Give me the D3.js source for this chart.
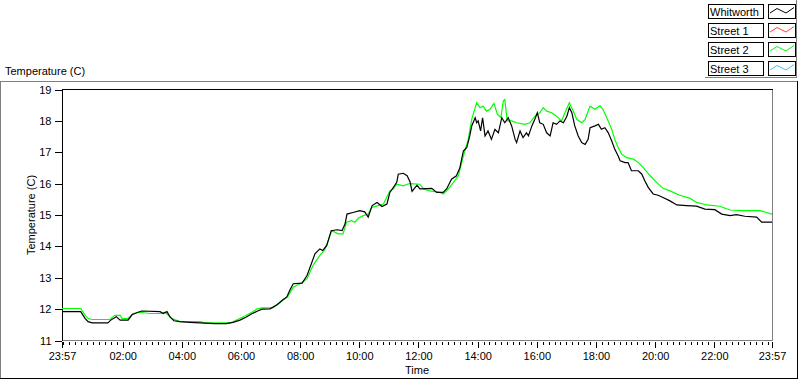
<!DOCTYPE html>
<html>
<head>
<meta charset="utf-8">
<script src="https://cdn.jsdelivr.net/npm/d3@7"></script>
<style>
  body { margin: 0; background: #fff; }
  svg text { font-family: "Liberation Sans", Arial, sans-serif; font-size: 11px; fill: #000; }
</style>
</head>
<body>
<div id="chart"></div>
<script>
// Series (clock time, temperature in C)
const whitworthTimes = ["23:57","00:35","00:44","00:50","00:58","01:30","01:36","01:47","01:55","02:11","02:19","02:31","02:39","03:16","03:22","03:30","03:36","03:44","03:56","04:17","04:37","05:07","05:30","05:44","05:58","06:10","06:22","06:35","06:43","06:59","07:13","07:25","07:33","07:39","07:46","08:04","08:14","08:24","08:30","08:40","08:46","08:54","09:03","09:15","09:25","09:31","09:35","09:47","10:01","10:11","10:18","10:26","10:36","10:46","10:56","11:02","11:16","11:19","11:29","11:37","11:43","11:47","11:57","12:03","12:27","12:37","12:50","12:57","13:07","13:17","13:24","13:31","13:38","13:44","13:48","13:55","13:58","14:01","14:06","14:10","14:15","14:21","14:28","14:35","14:42","14:49","14:55","15:02","15:09","15:16","15:19","15:26","15:32","15:39","15:43","15:50","15:56","16:01","16:06","16:13","16:20","16:27","16:33","16:40","16:47","16:54","17:01","17:06","17:11","17:17","17:24","17:31","17:38","17:44","17:48","17:58","18:05","18:11","18:18","18:25","18:32","18:38","18:45","18:49","18:59","19:05","19:12","19:26","19:33","19:39","19:46","19:56","20:06","20:16","20:30","20:44","21:04","21:24","21:41","22:01","22:15","22:32","22:45","23:02","23:26","23:36","23:57"];
const whitworthValues = [11.92,11.92,11.7,11.6,11.56,11.56,11.65,11.76,11.65,11.65,11.82,11.9,11.94,11.92,11.86,11.92,11.75,11.63,11.6,11.58,11.56,11.54,11.54,11.58,11.65,11.74,11.85,11.95,12.0,12.01,12.14,12.3,12.39,12.6,12.81,12.83,13.07,13.5,13.76,13.92,13.87,14.03,14.5,14.53,14.5,14.71,15.03,15.08,15.14,15.1,14.93,15.3,15.4,15.27,15.35,15.72,16.04,16.3,16.33,16.25,16.05,15.75,15.95,15.83,15.85,15.72,15.72,15.83,16.14,16.25,16.51,17.04,17.15,17.52,17.84,18.1,17.94,18.0,17.68,18.1,17.52,17.68,17.41,17.73,17.62,18.1,17.94,18.1,17.84,17.41,17.31,17.68,17.47,17.62,17.52,17.84,18.05,18.26,17.94,17.89,17.62,17.52,17.94,17.89,18.0,17.94,18.15,18.42,18.26,17.84,17.52,17.31,17.25,17.41,17.78,17.84,17.89,17.73,17.78,17.62,17.36,17.1,16.88,16.73,16.67,16.67,16.41,16.41,16.3,16.09,15.88,15.67,15.63,15.56,15.45,15.32,15.3,15.28,15.19,15.17,15.03,14.98,15.01,14.96,14.93,14.77,14.77];

const street2Times = ["23:57","00:35","00:44","00:50","00:58","01:34","01:44","01:55","01:59","02:11","02:21","02:35","02:55","03:16","03:26","03:40","03:56","04:37","04:47","05:38","05:48","06:08","06:22","06:32","06:43","07:05","07:19","07:25","07:35","07:46","08:04","08:14","08:26","08:40","08:50","08:57","09:04","09:17","09:27","09:34","09:44","09:51","09:58","10:08","10:18","10:25","10:36","10:49","11:02","11:09","11:16","11:29","11:37","11:43","12:03","12:10","12:23","12:44","12:50","12:57","13:11","13:21","13:31","13:41","13:48","13:55","13:58","14:05","14:11","14:18","14:25","14:33","14:40","14:47","14:52","14:55","15:00","15:09","15:19","15:36","15:46","15:56","16:06","16:13","16:20","16:30","16:40","16:50","16:57","17:06","17:14","17:21","17:31","17:38","17:48","17:58","18:08","18:14","18:25","18:32","18:38","18:45","18:52","19:02","19:16","19:26","19:36","19:50","20:03","20:16","20:30","20:50","21:11","21:24","21:45","22:11","22:32","22:59","23:33","23:46","23:57"];
const street2Values = [12.02,12.02,11.8,11.7,11.67,11.67,11.8,11.8,11.7,11.7,11.86,11.9,11.86,11.86,11.9,11.7,11.6,11.6,11.56,11.56,11.63,11.78,11.9,12.0,12.04,12.05,12.2,12.28,12.4,12.7,12.85,12.97,13.39,13.71,13.9,14.19,14.5,14.4,14.4,14.77,14.82,14.77,14.9,14.98,15.03,15.24,15.29,15.35,15.77,15.83,15.98,15.93,15.98,16.0,15.98,15.83,15.77,15.72,15.67,15.77,16.04,16.25,16.88,17.41,18.05,18.42,18.58,18.42,18.47,18.31,18.37,18.56,18.21,18.1,18.63,18.68,18.0,18.0,17.94,17.89,17.94,18.15,18.26,18.42,18.31,18.26,18.15,18.0,18.26,18.58,18.31,18.05,17.94,18.05,18.47,18.37,18.49,18.37,17.99,17.73,17.41,17.15,16.94,16.83,16.78,16.67,16.51,16.25,16.04,15.85,15.77,15.63,15.53,15.4,15.32,15.28,15.16,15.14,15.14,15.08,15.03];

const legendNames = ["Whitworth", "Street 1", "Street 2", "Street 3"];
const legendColors = ["#000000", "#ff4040", "#00ff00", "#40c0ff"];

const yTicks = [11, 12, 13, 14, 15, 16, 17, 18, 19];
const xTickLabels = ["23:57", "02:00", "04:00", "06:00", "08:00", "10:00", "12:00", "14:00", "16:00", "18:00", "20:00", "22:00", "23:57"];

const width = 800;
const height = 380;
const plot = {left: 62, right: 772, top: 89.5, bottom: 340.5};

// first stamp is the evening before, everything else falls on the next day
function parseClock(s, i) {
    const [h, m] = s.split(":").map(Number);
    return new Date(2000, 0, i === 0 ? 1 : 2, h, m);
}

const start = new Date(2000, 0, 1, 23, 57);
const end = new Date(2000, 0, 2, 23, 57);

const x = d3.scaleTime().domain([start, end]).range([plot.left, plot.right]);
const y = d3.scaleLinear().domain([11, 19]).range([plot.bottom, plot.top]);

const svg = d3.select("#chart").append("svg")
    .attr("width", width)
    .attr("height", height);

// panel frame (sunken look)
const frame = svg.append("g").attr("shape-rendering", "crispEdges");
frame.append("line").attr("x1", 0).attr("x2", 797).attr("y1", 81.5).attr("y2", 81.5).attr("stroke", "#808080");
frame.append("line").attr("x1", 0.5).attr("x2", 0.5).attr("y1", 81).attr("y2", 379).attr("stroke", "#808080");
frame.append("line").attr("x1", 797.5).attr("x2", 797.5).attr("y1", 81).attr("y2", 379).attr("stroke", "#000");
frame.append("line").attr("x1", 0).attr("x2", 798).attr("y1", 378.5).attr("y2", 378.5).attr("stroke", "#000");

svg.append("text")
    .attr("x", 5)
    .attr("y", 75)
    .text("Temperature (C)");

// plot area borders
const border = svg.append("g").attr("shape-rendering", "crispEdges");
border.append("line").attr("x1", plot.left).attr("x2", plot.right + 0.5).attr("y1", plot.top).attr("y2", plot.top).attr("stroke", "#000");
border.append("line").attr("x1", plot.right + 0.5).attr("x2", plot.right + 0.5).attr("y1", plot.top).attr("y2", plot.bottom).attr("stroke", "#808080");
border.append("line").attr("x1", plot.left).attr("x2", plot.right + 0.5).attr("y1", plot.bottom).attr("y2", plot.bottom).attr("stroke", "#808080");

// y axis
const yAxis = d3.axisLeft(y).tickValues(yTicks).tickSize(8).tickPadding(3).tickFormat(d3.format("d"));
const yg = svg.append("g")
    .attr("transform", `translate(${plot.left + 0.5},0)`)
    .attr("shape-rendering", "crispEdges")
    .call(yAxis);
yg.select(".domain").attr("d", `M0,${plot.top}V${plot.bottom}`).attr("stroke", "#000");
yg.selectAll(".tick line").attr("x1", -1).attr("stroke", "#000");
yg.selectAll("text").style("font-size", "11px").style("font-family", "Liberation Sans, Arial, sans-serif");

svg.append("text")
    .attr("transform", `translate(35,${(plot.top + plot.bottom) / 2}) rotate(-90)`)
    .attr("text-anchor", "middle")
    .text("Temperature (C)");

// x axis: minor ticks every 12 minutes, labelled majors every 2 hours
const minorTicks = d3.timeMinute.every(12).range(new Date(2000, 0, 2, 0, 0), end);
const majorTicks = xTickLabels.map((s, i) => i === xTickLabels.length - 1 ? end : parseClock(s, i));

const xMinor = d3.axisBottom(x).tickValues(minorTicks).tickSize(3).tickFormat("");
const xg1 = svg.append("g")
    .attr("transform", `translate(0,${plot.bottom + 1.5})`)
    .attr("shape-rendering", "crispEdges")
    .call(xMinor);
xg1.select(".domain").remove();
xg1.selectAll(".tick line").attr("stroke", "#000");

const xMajor = d3.axisBottom(x).tickValues(majorTicks).tickSize(6).tickPadding(4)
    .tickFormat((d, i) => xTickLabels[i]);
const xg2 = svg.append("g")
    .attr("transform", `translate(0,${plot.bottom + 1.5})`)
    .attr("shape-rendering", "crispEdges")
    .call(xMajor);
xg2.select(".domain").remove();
xg2.selectAll(".tick line").attr("stroke", "#000");
xg2.selectAll("text").style("font-size", "11px").style("font-family", "Liberation Sans, Arial, sans-serif");

svg.append("text")
    .attr("x", (plot.left + plot.right) / 2)
    .attr("y", 374)
    .attr("text-anchor", "middle")
    .text("Time");

// lines
const line = d3.line()
    .x(d => x(d.t))
    .y(d => y(d.v));

const street2 = street2Times.map((t, i) => ({t: i === street2Times.length - 1 ? end : parseClock(t, i), v: street2Values[i]}));
const whitworth = whitworthTimes.map((t, i) => ({t: i === whitworthTimes.length - 1 ? end : parseClock(t, i), v: whitworthValues[i]}));

svg.append("path")
    .datum(street2)
    .attr("d", line)
    .attr("fill", "none")
    .attr("stroke", legendColors[2])
    .attr("stroke-width", 1.2);

svg.append("path")
    .datum(whitworth)
    .attr("d", line)
    .attr("fill", "none")
    .attr("stroke", legendColors[0])
    .attr("stroke-width", 1.2);

// legend in the top right corner
const legend = svg.append("g");
legend.append("line").attr("x1", 796.5).attr("x2", 796.5).attr("y1", 0).attr("y2", 78).attr("stroke", "#808080").attr("shape-rendering", "crispEdges");
legend.append("line").attr("x1", 705).attr("x2", 797).attr("y1", 77.5).attr("y2", 77.5).attr("stroke", "#808080").attr("shape-rendering", "crispEdges");

const rows = legend.selectAll(".row")
    .data(legendNames)
    .enter()
    .append("g")
    .attr("class", "row")
    .attr("transform", (d, i) => `translate(0,${4 + i * 19})`);

rows.append("rect")
    .attr("x", 708.5).attr("y", 0.5)
    .attr("width", 55).attr("height", 14)
    .attr("fill", "#fff").attr("stroke", "#000")
    .attr("shape-rendering", "crispEdges");

rows.append("text")
    .attr("x", 710)
    .attr("y", 11.5)
    .text(d => d);

rows.append("rect")
    .attr("x", 768.5).attr("y", 0.5)
    .attr("width", 27).attr("height", 14)
    .attr("fill", "#fff").attr("stroke", "#000")
    .attr("shape-rendering", "crispEdges");

rows.append("path")
    .attr("d", "M770,9L777,4.5L786,9L794,3.5")
    .attr("fill", "none")
    .attr("stroke", (d, i) => legendColors[i])
    .attr("stroke-width", 1);
</script>
</body>
</html>
